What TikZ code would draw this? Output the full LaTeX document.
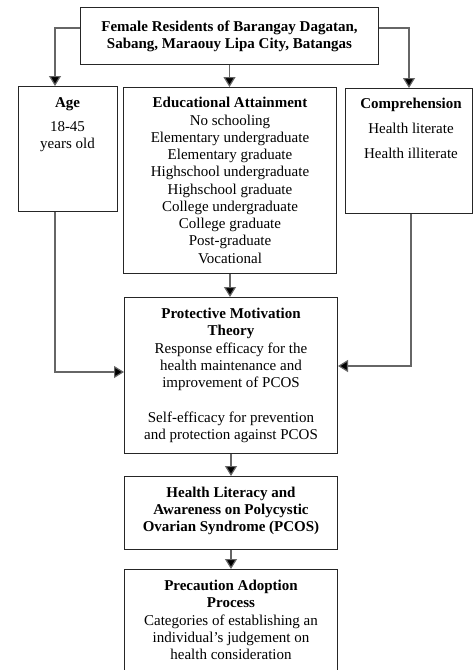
\documentclass[tikz,border=0pt]{standalone}
\usepackage{fontspec}
\setmainfont{Liberation Serif}
\usetikzlibrary{arrows.meta,calc}
\begin{document}
\begin{tikzpicture}[x=1pt,y=-1pt,
 box/.style={draw=black!85,line width=1pt,inner sep=0pt,anchor=north west},
 txt/.style={align=center,inner sep=0pt,font=\fontsize{15}{17.25}\selectfont},
 conn/.style={draw=black!60,line width=1.2pt,-{Triangle[width=12pt,length=10pt,fill=black]}}]
\useasboundingbox (0,0) rectangle (474,670);
\clip (0,0) rectangle (474,670);
% boxes
\node[box,minimum width=298pt,minimum height=57pt] (top) at (80,7) {};
\node[box,minimum width=99pt,minimum height=125pt] (age) at (18,86) {};
\node[box,minimum width=213pt,minimum height=186pt] (edu) at (123,87) {};
\node[box,minimum width=127pt,minimum height=125pt] (comp) at (345,88) {};
\node[box,minimum width=213pt,minimum height=156pt] (pmt) at (124,297) {};
\node[box,minimum width=213pt,minimum height=73pt] (hl) at (124,476) {};
\node[box,minimum width=213pt,minimum height=130pt] (pap) at (124,569) {};
% texts
\node[txt] (toptxt) at (top.center) {\textbf{Female Residents of Barangay Dagatan,}\\\textbf{Sabang, Maraouy Lipa City, Batangas}};
\node[txt,anchor=north] (agetxt) at (67.5,97) {\textbf{Age}\\[7pt]18-45\\years old};
\node[txt] (edutxt) at (edu.center) {\textbf{Educational Attainment}\\No schooling\\Elementary undergraduate\\Elementary graduate\\Highschool undergraduate\\Highschool graduate\\College undergraduate\\College graduate\\Post-graduate\\Vocational};
\node[txt,anchor=north] (comptxt) at (411,98) {\textbf{Comprehension}\\[8pt]Health literate\\[7pt]Health illiterate};
\node[txt] (pmttxt) at (pmt.center) {\textbf{Protective Motivation}\\\textbf{Theory}\\Response efficacy for the\\health maintenance and\\improvement of PCOS\\[17.25pt]Self-efficacy for prevention\\and protection against PCOS};
\node[txt] (hltxt) at ($(hl.center)+(0,-2)$) {\textbf{Health Literacy and}\\\textbf{Awareness on Polycystic}\\\textbf{Ovarian Syndrome (PCOS)}};
\node[txt,anchor=north] (paptxt) at ($(pap.north)+(0,11)$) {\textbf{Precaution Adoption}\\\textbf{Process}\\Categories of establishing an\\individual’s judgement on\\health consideration};
% connectors
\coordinate (bl) at (55,28);
\coordinate (br) at (409,28);
\coordinate (al) at (55,372);
\coordinate (cr) at (411,366);
\draw[conn] (top.west |- bl) -- (bl) -- (bl |- age.north);
\draw[conn] (top.east |- br) -- (br) -- (br |- comp.north);
\draw[conn] (top.south) -- (top.south |- edu.north);
\draw[conn] (edu.south) -- (edu.south |- pmt.north);
\draw[conn] (al |- age.south) -- (al) -- (al -| pmt.west);
\draw[conn] (cr |- comp.south) -- (cr) -- (cr -| pmt.east);
\draw[conn] (pmt.south) -- (pmt.south |- hl.north);
\draw[conn] (hl.south) -- (hl.south |- pap.north);
\end{tikzpicture}
\end{document}
